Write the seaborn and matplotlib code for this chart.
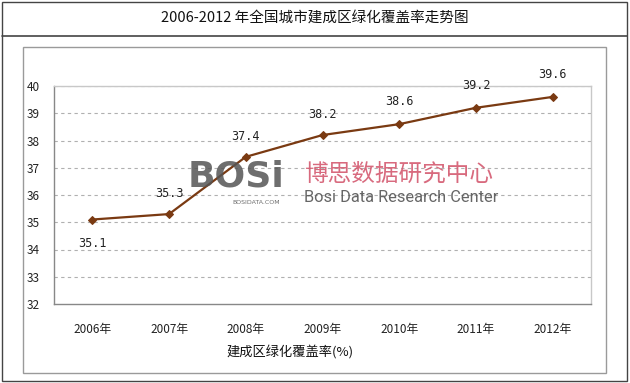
import matplotlib
matplotlib.use("Agg")
import matplotlib.pyplot as plt
import seaborn as sns
import pandas as pd
from matplotlib.patches import Rectangle
from matplotlib.lines import Line2D

years = ["2006年", "2007年", "2008年", "2009年", "2010年", "2011年", "2012年"]
values = [35.1, 35.3, 37.4, 38.2, 38.6, 39.2, 39.6]
labels = ["35.1", "35.3", "37.4", "38.2", "38.6", "39.2", "39.6"]
title = "2006-2012 年全国城市建成区绿化覆盖率走势图"
xlabel = "建成区绿化覆盖率(%)"

sns.set_theme(style="white")
plt.rcParams['font.family'] = ['Noto Sans CJK SC', 'DejaVu Sans']

W, H = 630, 383
fig = plt.figure(figsize=(W / 100, H / 100), dpi=100)

def fx(x):
    return x / W

def fy(y):
    return 1 - y / H

# outer table borders
fig.add_artist(Rectangle((fx(2), fy(381)), fx(625), (379) / H, fill=False,
                         edgecolor="#444444", lw=1.0, transform=fig.transFigure))
fig.add_artist(Line2D([fx(2), fx(627)], [fy(36), fy(36)], color="#444444", lw=1.2,
                      transform=fig.transFigure))
# inner chart frame
fig.add_artist(Rectangle((fx(23), fy(373)), fx(583), (373 - 47) / H, fill=False,
                         edgecolor="#9a9a9a", lw=1.0, transform=fig.transFigure))

fig.text(fx(315), fy(18), title, ha="center", va="center", fontsize=10.5, color="#111111")

ax = fig.add_axes([fx(54), fy(304), fx(591 - 54), (304 - 86) / H])
df = pd.DataFrame({"year": years, "value": values})
x = list(range(len(years)))
sns.lineplot(x=x, y=df["value"], ax=ax, color="#7a3a12", lw=1.6, marker="D",
             markersize=4.5, markeredgecolor="#7a3a12")

ax.set_xlim(-0.5, len(years) - 0.5)
ax.set_ylim(32, 40)
ax.set_yticks(range(32, 41))
ax.set_xticks(x)
ax.set_xticklabels(years)
ax.set_xticks([i - 0.5 for i in range(len(years) + 1)], minor=True)
ax.tick_params(axis="x", which="major", length=0, pad=14, labelsize=8.5, colors="#222222")
ax.tick_params(axis="x", which="minor", length=4, color="#888888", direction="out")
ax.tick_params(axis="y", length=4, color="#888888", direction="out", labelsize=8.5,
               colors="#222222", pad=6)
ax.tick_params(axis="y", colors="#888888", labelcolor="#222222")
for yv in range(33, 41):
    ax.axhline(yv, color="#b0b0b0", lw=0.8, ls=(0, (3, 3)), zorder=0)
for s in ["left", "bottom"]:
    ax.spines[s].set_color("#888888")
    ax.spines[s].set_linewidth(1.0)
for s in ["top", "right"]:
    ax.spines[s].set_color("#c8c8c8")
    ax.spines[s].set_linewidth(1.0)
ax.set_xlabel("")
ax.set_ylabel("")

offsets = [(0, -17), (0, 15), (0, 15), (0, 15), (0, 16), (0, 16), (0, 16)]
for xi, v, lab, (dx, dy) in zip(x, values, labels, offsets):
    ax.annotate(lab, (xi, v), xytext=(dx, dy), textcoords="offset points",
                ha="center", va="center", fontsize=8.5, color="#222222",
                family=["DejaVu Sans Mono"])

fig.text(fx(290), fy(352), xlabel, ha="center", va="center", fontsize=9.5, color="#111111")

# watermark
fig.text(fx(188), fy(176), "BOSi", ha="left", va="center", fontsize=26, fontweight="bold",
         color="#555555", alpha=0.85, family=["DejaVu Sans"])
fig.text(fx(232), fy(203), "BOSIDATA.COM", ha="left", va="center", fontsize=4.5,
         color="#555555", alpha=0.85, family=["DejaVu Sans"])
fig.text(fx(304), fy(174), "博思数据研究中心", ha="left", va="center", fontsize=17,
         color="#d45a70", alpha=0.9)
fig.text(fx(304), fy(197), "Bosi Data Research Center", ha="left", va="center", fontsize=11.8,
         color="#555555", alpha=0.9, family=["Roboto", "DejaVu Sans"])

fig.savefig("out.png", dpi=100)
